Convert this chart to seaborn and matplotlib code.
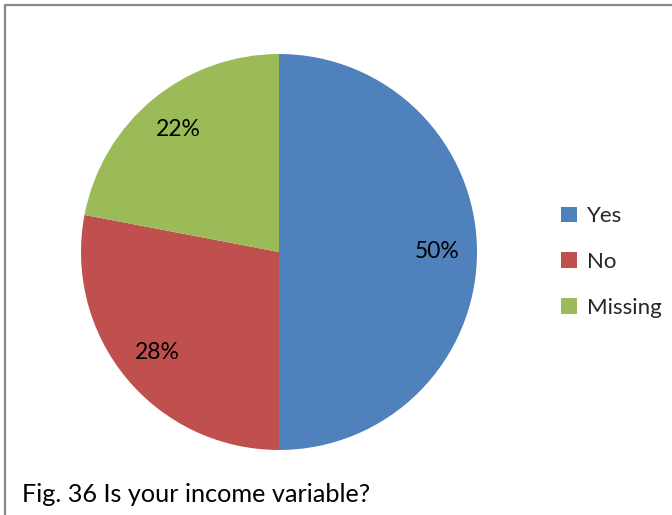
import matplotlib
matplotlib.use("Agg")
import matplotlib.pyplot as plt
import seaborn as sns
from matplotlib.patches import Patch
from matplotlib.lines import Line2D

categories = ["Yes", "No", "Missing"]
values = [50, 28, 22]
colors = ["#4F81BD", "#C0504D", "#9BBB59"]
caption = "Fig. 36 Is your income variable?"

sns.set_theme(style="white")
plt.rcParams["font.family"] = ["Lato", "DejaVu Sans"]

W, H = 672, 515
fig = plt.figure(figsize=(W / 100, H / 100), dpi=100)
fig.patch.set_facecolor("white")

cx, cy, r = 279, 252, 198
ax = fig.add_axes([(cx - r) / W, (H - cy - r) / H, 2 * r / W, 2 * r / H])
wedges, texts, autotexts = ax.pie(
    values, colors=colors, startangle=90, counterclock=False,
    autopct="%d%%", pctdistance=0.8, radius=1.0,
    wedgeprops=dict(linewidth=0),
    textprops=dict(fontsize=16.5, color="black"),
)
ax.set_xlim(-1, 1)
ax.set_ylim(-1, 1)
ax.set_aspect("equal")
ax.axis("off")

handles = [Patch(facecolor=c, edgecolor="none") for c in colors]
leg = fig.legend(handles, categories, loc="center left",
                 bbox_to_anchor=(561 / W, (H - 262) / H),
                 frameon=False, fontsize=16, handlelength=0.7, handleheight=0.7,
                 handletextpad=0.45, labelspacing=1.15, borderaxespad=0, borderpad=0)

fig.text(22 / W, (H - 494) / H, caption, fontsize=18.2, ha="left", va="center", color="black")

# border lines (top and left)
fig.add_artist(Line2D([5 / W, 1.0], [(H - 5) / H, (H - 5) / H], color="#888888", lw=1.6, transform=fig.transFigure))
fig.add_artist(Line2D([5 / W, 5 / W], [0, (H - 5) / H], color="#888888", lw=1.6, transform=fig.transFigure))

fig.savefig("out.png", dpi=100)
